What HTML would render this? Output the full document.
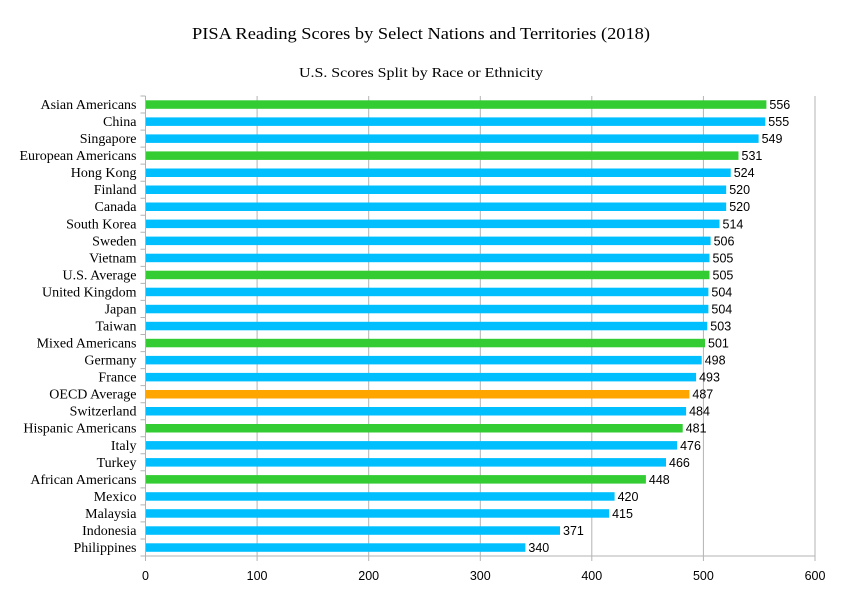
<!DOCTYPE html>
<html><head><meta charset="utf-8"><style>body{margin:0;background:#fff}svg{display:block}</style></head><body>
<svg width="843" height="593" xmlns="http://www.w3.org/2000/svg">
<rect width="843" height="593" fill="#fff"/>
<text x="421" y="39" text-anchor="middle" font-family="Liberation Serif,serif" font-size="17" textLength="458" lengthAdjust="spacingAndGlyphs">PISA Reading Scores by Select Nations and Territories (2018)</text>
<text x="421" y="77" text-anchor="middle" font-family="Liberation Serif,serif" font-size="14" textLength="244" lengthAdjust="spacingAndGlyphs">U.S. Scores Split by Race or Ethnicity</text>
<g stroke="#b3b3b3" stroke-width="1">
<path d="M257.1 96V561M368.7 96V561M480.3 96V561M591.8 96V561M703.4 96V561M815 96V561M145.5 96V561M145.5 556H815"/>
<path d="M140.5 96H145.5M140.5 113H145.5M140.5 130.1H145.5M140.5 147.1H145.5M140.5 164.1H145.5M140.5 181.2H145.5M140.5 198.2H145.5M140.5 215.3H145.5M140.5 232.3H145.5M140.5 249.3H145.5M140.5 266.4H145.5M140.5 283.4H145.5M140.5 300.4H145.5M140.5 317.5H145.5M140.5 334.5H145.5M140.5 351.6H145.5M140.5 368.6H145.5M140.5 385.6H145.5M140.5 402.7H145.5M140.5 419.7H145.5M140.5 436.7H145.5M140.5 453.8H145.5M140.5 470.8H145.5M140.5 487.9H145.5M140.5 504.9H145.5M140.5 521.9H145.5M140.5 539H145.5M140.5 556H145.5"/>
</g>
<g font-family="Liberation Sans,sans-serif" font-size="12.5" text-anchor="middle">
<text x="145.5" y="580">0</text><text x="257.1" y="580">100</text><text x="368.7" y="580">200</text><text x="480.3" y="580">300</text><text x="591.8" y="580">400</text><text x="703.4" y="580">500</text><text x="815" y="580">600</text>
</g>
<g>
<rect x="146" y="100.3" width="620.4" height="8.5" fill="#33cc33"/>
<rect x="146" y="117.4" width="619.3" height="8.5" fill="#00bfff"/>
<rect x="146" y="134.4" width="612.6" height="8.5" fill="#00bfff"/>
<rect x="146" y="151.4" width="592.5" height="8.5" fill="#33cc33"/>
<rect x="146" y="168.5" width="584.7" height="8.5" fill="#00bfff"/>
<rect x="146" y="185.5" width="580.2" height="8.5" fill="#00bfff"/>
<rect x="146" y="202.5" width="580.2" height="8.5" fill="#00bfff"/>
<rect x="146" y="219.6" width="573.5" height="8.5" fill="#00bfff"/>
<rect x="146" y="236.6" width="564.6" height="8.5" fill="#00bfff"/>
<rect x="146" y="253.7" width="563.5" height="8.5" fill="#00bfff"/>
<rect x="146" y="270.7" width="563.5" height="8.5" fill="#33cc33"/>
<rect x="146" y="287.7" width="562.4" height="8.5" fill="#00bfff"/>
<rect x="146" y="304.8" width="562.4" height="8.5" fill="#00bfff"/>
<rect x="146" y="321.8" width="561.3" height="8.5" fill="#00bfff"/>
<rect x="146" y="338.8" width="559.0" height="8.5" fill="#33cc33"/>
<rect x="146" y="355.9" width="555.7" height="8.5" fill="#00bfff"/>
<rect x="146" y="372.9" width="550.1" height="8.5" fill="#00bfff"/>
<rect x="146" y="390.0" width="543.4" height="8.5" fill="#ffa500"/>
<rect x="146" y="407.0" width="540.1" height="8.5" fill="#00bfff"/>
<rect x="146" y="424.0" width="536.7" height="8.5" fill="#33cc33"/>
<rect x="146" y="441.1" width="531.1" height="8.5" fill="#00bfff"/>
<rect x="146" y="458.1" width="520.0" height="8.5" fill="#00bfff"/>
<rect x="146" y="475.1" width="499.9" height="8.5" fill="#33cc33"/>
<rect x="146" y="492.2" width="468.6" height="8.5" fill="#00bfff"/>
<rect x="146" y="509.2" width="463.1" height="8.5" fill="#00bfff"/>
<rect x="146" y="526.3" width="414.0" height="8.5" fill="#00bfff"/>
<rect x="146" y="543.3" width="379.4" height="8.5" fill="#00bfff"/>
</g>
<g font-family="Liberation Serif,serif" font-size="14" text-anchor="end">
<text x="136.5" y="109">Asian Americans</text>
<text x="136.5" y="126.1">China</text>
<text x="136.5" y="143.1">Singapore</text>
<text x="136.5" y="160.1">European Americans</text>
<text x="136.5" y="177.2">Hong Kong</text>
<text x="136.5" y="194.2">Finland</text>
<text x="136.5" y="211.2">Canada</text>
<text x="136.5" y="228.3">South Korea</text>
<text x="136.5" y="245.3">Sweden</text>
<text x="136.5" y="262.4">Vietnam</text>
<text x="136.5" y="279.4">U.S. Average</text>
<text x="136.5" y="296.4">United Kingdom</text>
<text x="136.5" y="313.5">Japan</text>
<text x="136.5" y="330.5">Taiwan</text>
<text x="136.5" y="347.5">Mixed Americans</text>
<text x="136.5" y="364.6">Germany</text>
<text x="136.5" y="381.6">France</text>
<text x="136.5" y="398.7">OECD Average</text>
<text x="136.5" y="415.7">Switzerland</text>
<text x="136.5" y="432.7">Hispanic Americans</text>
<text x="136.5" y="449.8">Italy</text>
<text x="136.5" y="466.8">Turkey</text>
<text x="136.5" y="483.8">African Americans</text>
<text x="136.5" y="500.9">Mexico</text>
<text x="136.5" y="517.9">Malaysia</text>
<text x="136.5" y="535">Indonesia</text>
<text x="136.5" y="552">Philippines</text>
</g>
<g font-family="Liberation Sans,sans-serif" font-size="12.5">
<text x="769.4" y="109">556</text>
<text x="768.3" y="126.1">555</text>
<text x="761.6" y="143.1">549</text>
<text x="741.5" y="160.1">531</text>
<text x="733.7" y="177.2">524</text>
<text x="729.2" y="194.2">520</text>
<text x="729.2" y="211.2">520</text>
<text x="722.5" y="228.3">514</text>
<text x="713.6" y="245.3">506</text>
<text x="712.5" y="262.4">505</text>
<text x="712.5" y="279.4">505</text>
<text x="711.4" y="296.4">504</text>
<text x="711.4" y="313.5">504</text>
<text x="710.3" y="330.5">503</text>
<text x="708.0" y="347.5">501</text>
<text x="704.7" y="364.6">498</text>
<text x="699.1" y="381.6">493</text>
<text x="692.4" y="398.7">487</text>
<text x="689.1" y="415.7">484</text>
<text x="685.7" y="432.7">481</text>
<text x="680.1" y="449.8">476</text>
<text x="669.0" y="466.8">466</text>
<text x="648.9" y="483.8">448</text>
<text x="617.6" y="500.9">420</text>
<text x="612.1" y="517.9">415</text>
<text x="563.0" y="535">371</text>
<text x="528.4" y="552">340</text>
</g>
</svg>
</body></html>
